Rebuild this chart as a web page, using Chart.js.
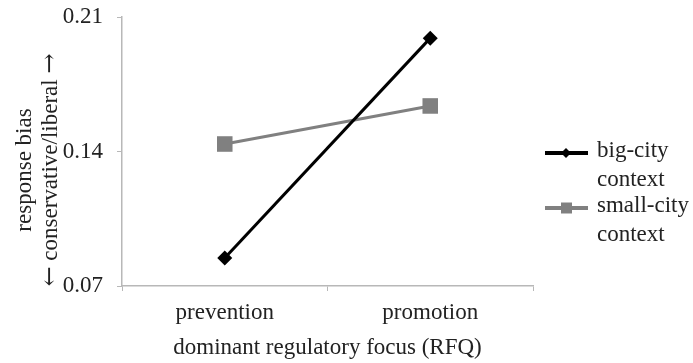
<!DOCTYPE html>
<html>
<head>
<meta charset="utf-8">
<script src="https://cdn.jsdelivr.net/npm/chart.js@4/dist/chart.umd.min.js"></script>
<style>
  html, body { margin: 0; padding: 0; background: #fff; }
  #wrap { width: 693px; height: 363px; position: relative; }
</style>
</head>
<body>
<div id="wrap"><canvas id="myChart"></canvas></div>
<script>
// data
const categories = ['prevention', 'promotion'];
const bigCity = [0.0846, 0.1990];
const smallCity = [0.1439, 0.1637];
const seriesNames = ['big-city context', 'small-city context'];
const yTicks = [0.07, 0.14, 0.21];
const xTitle = 'dominant regulatory focus (RFQ)';
const yTitleTop = 'response bias';
const yTitleBottom = ['\u2190', ' conservative/liberal ', '\u2192'];

const serif = '"Liberation Serif", "Times New Roman", serif';
const arrowFont = '24px "DejaVu Serif", serif';
const axisGray = '#b8b8b8';

// y title drawn by hand so both lines sit where the original has them
const yTitlePlugin = {
    id: 'yTitle',
    afterDraw(chart) {
        const ctx = chart.ctx;
        const textFont = '23px ' + serif;
        ctx.save();
        ctx.fillStyle = '#222';
        ctx.textBaseline = 'middle';
        ctx.translate(0, 170);
        ctx.rotate(-Math.PI / 2);
        ctx.font = textFont;
        ctx.textAlign = 'center';
        ctx.fillText(yTitleTop, 0, 25);

        // second line: arrows in a font that has full-size arrow glyphs
        const fonts = [arrowFont, textFont, arrowFont];
        const widths = yTitleBottom.map((t, i) => {
            ctx.font = fonts[i];
            return ctx.measureText(t).width;
        });
        const total = widths.reduce((a, b) => a + b, 0);
        let x = -total / 2;
        ctx.textAlign = 'left';
        yTitleBottom.forEach((t, i) => {
            ctx.font = fonts[i];
            ctx.fillText(t, x, 51);
            x += widths[i];
        });
        ctx.restore();
    }
};

// legend with two-line labels on the right
const legendPlugin = {
    id: 'sideLegend',
    afterDraw(chart) {
        const ctx = chart.ctx;
        const rows = [153, 208];
        chart.data.datasets.forEach((ds, i) => {
            const y = rows[i];
            ctx.save();
            ctx.strokeStyle = ds.borderColor;
            ctx.lineWidth = 4;
            ctx.beginPath();
            ctx.moveTo(545, y);
            ctx.lineTo(588, y);
            ctx.stroke();
            ctx.fillStyle = ds.borderColor;
            ctx.beginPath();
            if (ds.pointStyle === 'rectRot') {
                ctx.moveTo(566, y - 5);
                ctx.lineTo(571, y);
                ctx.lineTo(566, y + 5);
                ctx.lineTo(561, y);
                ctx.closePath();
            } else {
                ctx.rect(561, y - 5.5, 11, 11);
            }
            ctx.fill();
            ctx.font = '23px ' + serif;
            ctx.fillStyle = '#222';
            ctx.textAlign = 'left';
            ctx.textBaseline = 'middle';
            const parts = ds.label.split(' ');
            ctx.fillText(parts[0], 597, y - 2);
            ctx.fillText(parts.slice(1).join(' '), 597, y + 27);
            ctx.restore();
        });
    }
};

const ctx = document.getElementById('myChart').getContext('2d');
const myChart = new Chart(ctx, {
    type: 'line',
    data: {
        labels: categories,
        datasets: [{
            label: seriesNames[0],
            data: bigCity,
            borderColor: '#000000',
            backgroundColor: '#000000',
            borderWidth: 3,
            pointStyle: 'rectRot',
            pointRadius: 7.5,
            pointBorderWidth: 0
        }, {
            label: seriesNames[1],
            data: smallCity,
            borderColor: '#808080',
            backgroundColor: '#808080',
            borderWidth: 3,
            pointStyle: 'rect',
            pointRadius: 11,
            pointBorderWidth: 0
        }]
    },
    options: {
        responsive: true,
        maintainAspectRatio: false,
        animation: false,
        layout: {
            autoPadding: false,
            padding: { left: 0, right: 160, top: 17, bottom: 0 }
        },
        plugins: {
            legend: { display: false },
            tooltip: { enabled: false }
        },
        scales: {
            x: {
                offset: true,
                grid: {
                    offset: true,
                    drawOnChartArea: false,
                    drawTicks: true,
                    tickLength: 5,
                    color: axisGray
                },
                border: { color: axisGray, width: 1.5 },
                ticks: {
                    color: '#222',
                    font: { family: serif, size: 23 },
                    padding: 8,
                    maxRotation: 0
                },
                title: {
                    display: true,
                    text: xTitle,
                    color: '#222',
                    font: { family: serif, size: 23 },
                    padding: { top: 4, bottom: 1 }
                },
                afterFit(scale) { scale.height = 77; }
            },
            y: {
                min: yTicks[0],
                max: yTicks[yTicks.length - 1],
                afterBuildTicks(scale) {
                    scale.ticks = yTicks.map(v => ({ value: v }));
                },
                grid: {
                    drawOnChartArea: false,
                    drawTicks: true,
                    tickLength: 5,
                    color: axisGray
                },
                border: { color: axisGray, width: 1.5 },
                ticks: {
                    color: '#222',
                    font: { family: serif, size: 23 },
                    padding: 14,
                    callback: v => v.toFixed(2)
                },
                afterFit(scale) {
                    scale.width = 122;
                    scale.paddingTop = 0;
                    scale.paddingBottom = 0;
                }
            }
        }
    },
    plugins: [yTitlePlugin, legendPlugin]
});
</script>
</body>
</html>
